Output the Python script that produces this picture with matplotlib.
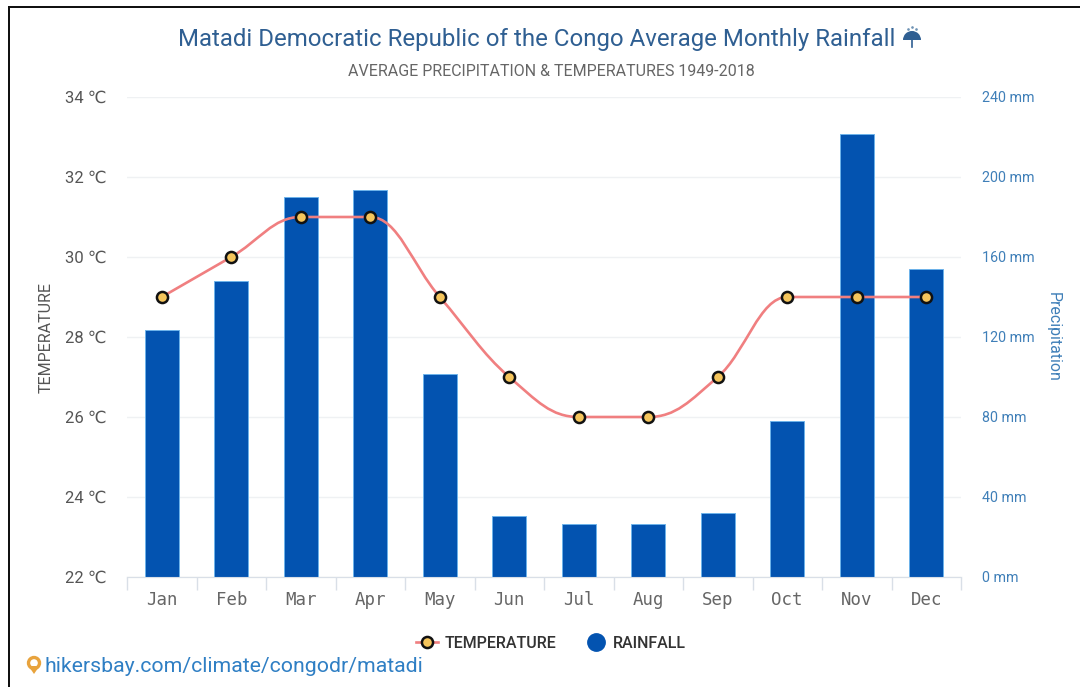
# Matadi climate chart: monthly rainfall bars with a temperature curve on top

import numpy as np
import matplotlib
matplotlib.use('Agg')
import matplotlib.pyplot as plt
from matplotlib.lines import Line2D
from matplotlib.path import Path
from matplotlib.patches import PathPatch, Polygon, Wedge, Circle, Rectangle

months = ['Jan', 'Feb', 'Mar', 'Apr', 'May', 'Jun', 'Jul', 'Aug', 'Sep', 'Oct', 'Nov', 'Dec']
temperature = [29, 30, 31, 31, 29, 27, 26, 26, 27, 29, 29, 29]
rainfall = [123.5, 148, 190, 193.5, 101.5, 30.5, 26.5, 26.5, 32, 78, 221.5, 154]
temp_ticks = [22, 24, 26, 28, 30, 32, 34]
rain_ticks = [0, 40, 80, 120, 160, 200, 240]

W, H = 1080, 687
TITLE_BLUE = '#2f5f92'
AXIS_BLUE = '#3f7fb8'
GREY = '#555555'

plt.rcParams['font.family'] = ['Roboto', 'DejaVu Sans']

fig = plt.figure(figsize=(W / 100, H / 100), dpi=100, facecolor='white')


def fx(px):
    return px / W


def fy(py):
    return 1 - py / H


def smooth_path(x, y):
    # bezier segments, central slopes but flat tangents at plateaus and extrema
    x = np.asarray(x, dtype=float)
    y = np.asarray(y, dtype=float)
    d = np.diff(y) / np.diff(x)
    m = np.zeros(len(y))
    for i in range(1, len(y) - 1):
        if d[i - 1] * d[i] > 0:
            m[i] = (d[i - 1] + d[i]) / 2
    m[0] = d[0]
    m[-1] = d[-1]
    verts = [(x[0], y[0])]
    codes = [Path.MOVETO]
    for i in range(len(x) - 1):
        h = (x[i + 1] - x[i]) * 0.4
        verts += [(x[i] + h, y[i] + m[i] * h), (x[i + 1] - h, y[i + 1] - m[i + 1] * h), (x[i + 1], y[i + 1])]
        codes += [Path.CURVE4, Path.CURVE4, Path.CURVE4]
    return Path(verts, codes)


# temperature axes sit on top so the curve stays in front of the bars
ax = fig.add_axes([fx(127), fy(577), fx(961 - 127), (577 - 97) / H])
ax2 = ax.twinx()
ax.set_zorder(ax2.get_zorder() + 1)
ax.patch.set_visible(False)

pos = np.arange(len(months))

ax2.bar(pos, rainfall, width=0.49, color='#0353b0', edgecolor='#6db3ea', linewidth=0.7, zorder=3)
ax2.set_ylim(0, 240)
ax2.set_yticks(rain_ticks)
ax2.set_yticklabels(['%d mm' % v for v in rain_ticks], color=AXIS_BLUE, fontsize=10.3)
ax2.tick_params(axis='y', length=0, pad=15)
ax2.grid(axis='y', color='#eff1f3', linewidth=1.0, zorder=0)
ax2.set_axisbelow(True)

ax.add_patch(PathPatch(smooth_path(pos, temperature), fill=False, edgecolor='#f07f80', linewidth=1.9, zorder=3))
ax.plot(pos, temperature, linestyle='none', marker='o', markersize=8, markerfacecolor='#f5c55c',
        markeredgecolor='#111111', markeredgewidth=1.8, zorder=4)

ax.set_xlim(-0.5, 11.5)
ax.set_ylim(22, 34)
ax.set_yticks(temp_ticks)
ax.set_yticklabels(['%d \u2103' % v for v in temp_ticks], color=GREY, fontsize=12)
ax.tick_params(axis='y', length=0, pad=14.7)

# month labels centred, tick marks on the category boundaries
ax.set_xticks(np.arange(-0.5, 12, 1))
ax.set_xticklabels([])
ax.tick_params(axis='x', length=9.5, width=1.0, color='#d9dfe7')
ax.set_xticks(pos, minor=True)
ax.set_xticklabels(months, minor=True, family='DejaVu Sans Mono', color='#666666', fontsize=12.5)
ax.tick_params(axis='x', which='minor', length=0, pad=10)

for a in (ax, ax2):
    for name in ('top', 'left', 'right'):
        a.spines[name].set_visible(False)
    a.spines['bottom'].set_color('#d9dfe7')

fig.text(fx(536.5), fy(39.5), 'Matadi Democratic Republic of the Congo Average Monthly Rainfall',
         color=TITLE_BLUE, fontsize=17.25, ha='center', va='center')
fig.text(fx(551), fy(71), 'AVERAGE PRECIPITATION & TEMPERATURES 1949-2018',
         color='#666666', fontsize=11.5, ha='center', va='center')
fig.text(fx(46.5), fy(337), 'TEMPERATURE', color=GREY, fontsize=11.5, rotation=90, ha='center', va='center')
fig.text(fx(1053), fy(336.5), 'Precipitation', color=AXIS_BLUE, fontsize=11.4, rotation=270, ha='center', va='center')
fig.text(fx(44), fy(666), 'hikersbay.com/climate/congodr/matadi', color='#2f7fc4', fontsize=15.3, ha='left', va='center')

handles = [
    Line2D([], [], color='#f07f80', linewidth=1.9, marker='o', markersize=8, markerfacecolor='#f5c55c',
           markeredgecolor='#111111', markeredgewidth=1.8),
    Line2D([], [], linestyle='none', marker='o', markersize=12.5, color='#0353b0'),
]
leg = fig.legend(handles, ['TEMPERATURE', 'RAINFALL'], ncol=2, frameon=False, loc='center',
                 bbox_to_anchor=(fx(551), fy(643)), handlelength=1.4, columnspacing=1.75, handletextpad=0.4,
                 prop={'family': 'Roboto', 'weight': 'medium', 'size': 11.5})
for t in leg.get_texts():
    t.set_color('#333333')

# overlay in pixel coordinates for the frame and the two small icons
over = fig.add_axes([0, 0, 1, 1], zorder=10)
over.set_xlim(0, W)
over.set_ylim(H, 0)
over.axis('off')

over.add_patch(Rectangle((8, 6), W - 8, 1.8, facecolor='#111111', edgecolor='none'))
over.add_patch(Rectangle((8, 6), 1.8, H - 6, facecolor='#111111', edgecolor='none'))

# umbrella next to the title
over.add_patch(Wedge((912, 40), 9, 180, 360, facecolor=TITLE_BLUE, edgecolor='none', transform=over.transData))
over.plot([912, 912], [40, 47], color=TITLE_BLUE, linewidth=1.2)
over.plot([908, 912, 916], [29, 27, 29], linestyle='none', marker='.', markersize=1.8, color='#6f93b5')

# map pin before the link
over.add_patch(Circle((34, 663), 5.5, facecolor='none', edgecolor='#e8a33d', linewidth=2.4))
over.add_patch(Polygon([[28.5, 666], [39.5, 666], [34, 674]], closed=True, facecolor='#e8a33d', edgecolor='none'))

fig.savefig('out.png', dpi=100)
